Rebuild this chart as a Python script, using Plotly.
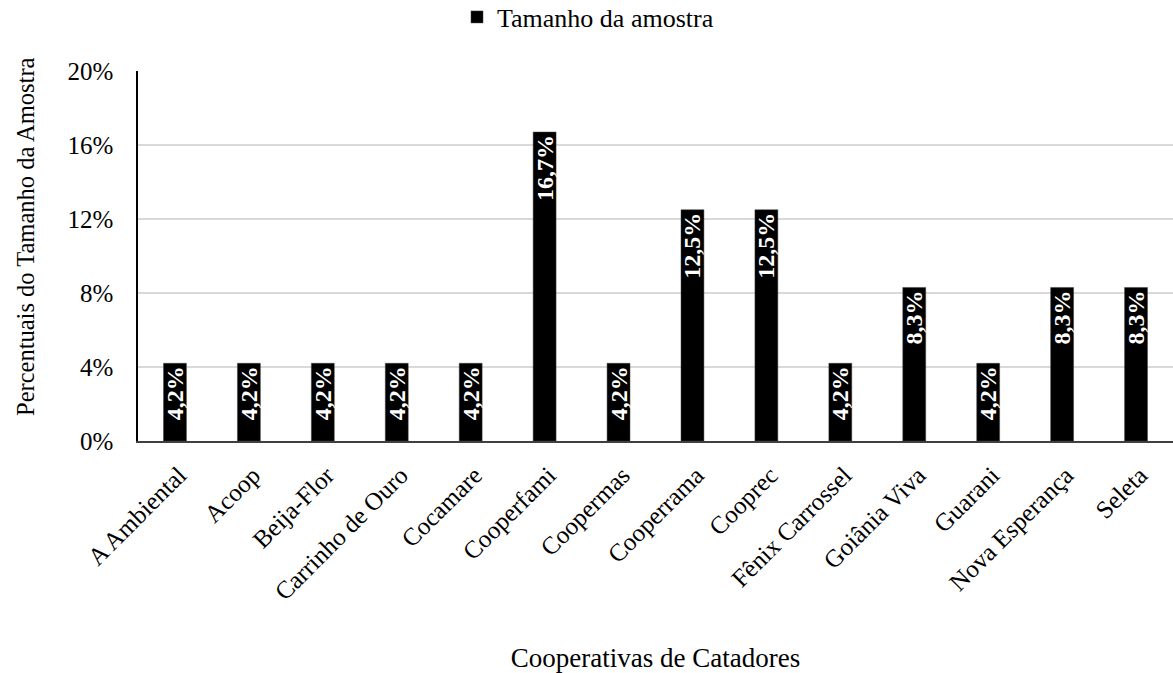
import plotly.graph_objects as go

categories = ["A Ambiental", "Acoop", "Beija-Flor", "Carrinho de Ouro", "Cocamare",
              "Cooperfami", "Coopermas", "Cooperrama", "Cooprec", "Fênix Carrossel",
              "Goiânia Viva", "Guarani", "Nova Esperança", "Seleta"]
values = [0.042, 0.042, 0.042, 0.042, 0.042, 0.167, 0.042, 0.125, 0.125, 0.042,
          0.083, 0.042, 0.083, 0.083]
y_ticks = [0, 0.04, 0.08, 0.12, 0.16, 0.20]
series_name = "Tamanho da amostra"
x_title = "Cooperativas de Catadores"
y_title = "Percentuais do Tamanho da Amostra"

FONT = "Liberation Serif, Times New Roman, serif"

fig = go.Figure()
fig.add_trace(go.Bar(
    x=categories, y=values, name=series_name,
    marker=dict(color="black", line=dict(color="#404040", width=0.5)),
    texttemplate="%{y:.1%}",
    textposition="inside", insidetextanchor="end", textangle=-90,
    constraintext="none",
    insidetextfont=dict(family=FONT, size=24, color="white", weight="bold"),
    showlegend=True,
))

fig.update_layout(
    width=1173, height=673,
    margin=dict(l=138, r=0, t=71, b=232, autoexpand=False),
    paper_bgcolor="white", plot_bgcolor="white",
    separators=",.",
    bargap=0.69,
    font=dict(family=FONT, size=25, color="black"),
    showlegend=True,
    legend=dict(orientation="h", x=457 / 1173, xanchor="left", xref="container",
                y=1 - 17 / 673, yanchor="middle", yref="container",
                font=dict(size=26, family=FONT)),
    xaxis=dict(
        tickangle=-45, showline=True, linecolor="#404040", linewidth=1.5,
        ticks="", tickfont=dict(size=25, family=FONT), automargin=False,
        ticklabelstandoff=8, ticklabelshift=4,
        title=dict(text=x_title, font=dict(size=27, family=FONT), standoff=54),
    ),
    yaxis=dict(
        range=[0, 0.20], tickvals=y_ticks, tickformat=".0%",
        showline=True, linecolor="black", linewidth=1.5,
        showgrid=True, gridcolor="#d9d9d9", gridwidth=1.5,
        zeroline=False, ticks="", ticklabelstandoff=18, automargin=False,
        tickfont=dict(size=25, family=FONT),
    ),
    annotations=[dict(
        text=y_title, textangle=-90, showarrow=False,
        xref="paper", yref="paper",
        x=(25 - 138) / 1035, y=(441 - 237) / 370,
        xanchor="center", yanchor="middle",
        font=dict(size=24.5, family=FONT, color="black"),
    )],
)

fig.write_html("out.html")
